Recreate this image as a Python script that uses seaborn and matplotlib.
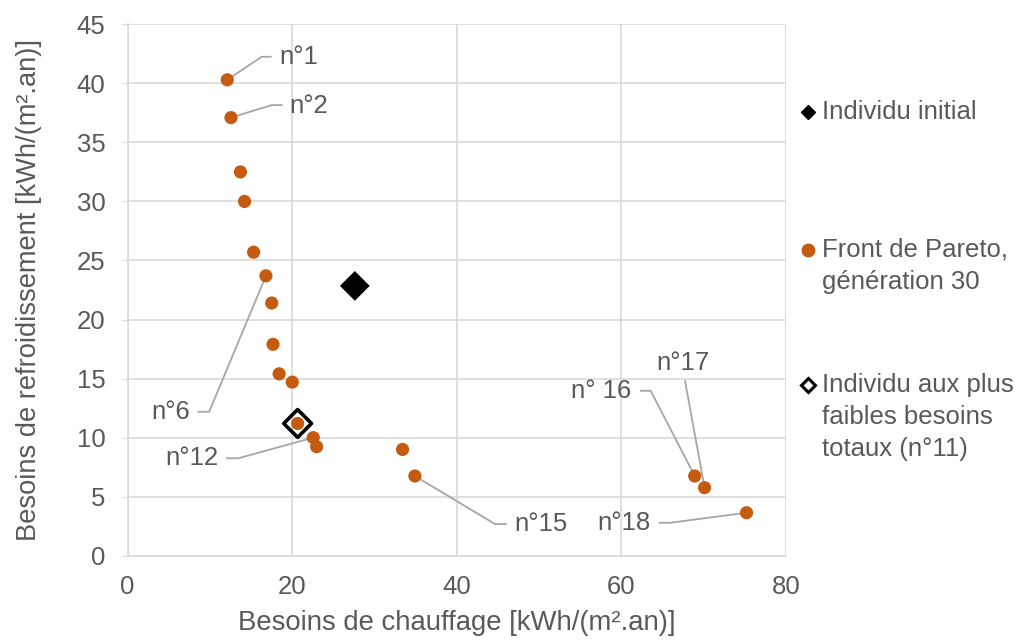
import matplotlib
matplotlib.use("Agg")
import matplotlib.pyplot as plt
import seaborn as sns
import pandas as pd

# Front de Pareto, génération 30
chauffage = [12.1, 12.55, 13.7, 14.2, 15.3, 16.8, 17.5, 17.66, 18.4, 20.0,
             20.65, 22.55, 22.96, 33.4, 34.9, 68.9, 70.1, 75.2]
refroid = [40.3, 37.1, 32.5, 30.0, 25.7, 23.7, 21.4, 17.9, 15.4, 14.7,
           11.2, 10.0, 9.23, 9.0, 6.75, 6.75, 5.76, 3.64]

# individu initial and best individual (n°11)
initial_x, initial_y = [27.6], [22.85]
best_x, best_y = [20.65], [11.2]

# labelled individuals: number, index in front, elbow, end of line, text pos, alignment
labels = [
    ("n°1", 0, (16.28, 42.25), 17.41, (18.4, 42.2), "left"),
    ("n°2", 1, (17.5, 38.16), 18.75, (19.7, 38.1), "left"),
    ("n°6", 5, (9.9, 12.19), 8.58, (7.6, 12.19), "right"),
    ("n°12", 11, (13.44, 8.25), 12.03, (11.0, 8.25), "right"),
    ("n°15", 14, (44.63, 2.68), 45.97, (47.0, 2.68), "left"),
    ("n° 16", 15, (63.55, 13.97), 62.33, (61.2, 13.97), "right"),
    ("n°17", 16, (67.72, 14.82), None, (67.5, 16.3), "center"),
    ("n°18", 17, (65.89, 2.79), 64.6, (63.5, 2.79), "right"),
]

# legend entries, one list per entry (lines of text)
legend_text = [
    ["Individu initial"],
    ["Front de Pareto,", "génération 30"],
    ["Individu aux plus", "faibles besoins", "totaux (n°11)"],
]

orange = "#C55A11"
grey = "#595959"
line_grey = "#A6A6A6"
fs = 18.5

sns.set_style("white")
plt.rcParams['font.family'] = ['Liberation Sans', 'DejaVu Sans']

fig = plt.figure(figsize=(10.19, 6.4), dpi=100)
ax = fig.add_axes([0.1253, 0.1317, 0.6461, 0.8303])

df = pd.DataFrame({"x": chauffage, "y": refroid})
sns.scatterplot(data=df, x="x", y="y", color=orange, s=90, edgecolor="none",
                ax=ax, zorder=3)
sns.scatterplot(x=initial_x, y=initial_y, marker="D", color="black", s=230,
                edgecolor="none", ax=ax, zorder=4)
sns.scatterplot(x=best_x, y=best_y, marker="D", facecolor="none",
                edgecolor="black", linewidth=2.6, s=200, ax=ax, zorder=4)

for txt, i, elbow, end, tpos, ha in labels:
    px, py = chauffage[i], refroid[i]
    xs = [px, elbow[0]]
    ys = [py, elbow[1]]
    if end is not None:
        xs.append(end)
        ys.append(elbow[1])
    ax.plot(xs, ys, color=line_grey, lw=1.3, zorder=2)
    ax.text(tpos[0], tpos[1], txt, ha=ha, va="center", fontsize=fs, color=grey)

ax.set_xlim(0, 80)
ax.set_ylim(0, 45)
ax.set_xticks(range(0, 81, 20))
ax.set_yticks(range(0, 46, 5))
ax.grid(True, color="#D9D9D9", lw=1.2)
ax.set_axisbelow(True)
for side in ax.spines:
    ax.spines[side].set_visible(False)
for side in ["left", "bottom"]:
    ax.spines[side].set_visible(True)
    ax.spines[side].set_color("#D9D9D9")
    ax.spines[side].set_linewidth(1.2)
ax.tick_params(axis="y", length=4, color="#D9D9D9", labelsize=fs,
               labelcolor=grey, pad=12, left=True)
ax.tick_params(axis="x", length=0, labelsize=fs, labelcolor=grey, pad=14)
ax.set_xlabel("Besoins de chauffage [kWh/(m².an)]", fontsize=19.8, color=grey,
              labelpad=8)
ax.set_ylabel("Besoins de refroidissement [kWh/(m².an)]", fontsize=19.6,
              color=grey, labelpad=25)

# legend drawn on the right
leg_x = 808 / 1019
tx = 822 / 1019
entry_y = [112, 250, 385]
line_step = 32
fig.lines.append(plt.Line2D([leg_x], [1 - entry_y[0] / 640], marker="D",
                            color="black", markersize=7.5, ls="none",
                            transform=fig.transFigure))
fig.lines.append(plt.Line2D([leg_x], [1 - entry_y[1] / 640], marker="o",
                            color=orange, markersize=9, ls="none",
                            transform=fig.transFigure))
fig.lines.append(plt.Line2D([leg_x], [1 - entry_y[2] / 640], marker="D",
                            markerfacecolor="white", markeredgecolor="black",
                            markeredgewidth=2.2, markersize=7.2, ls="none",
                            transform=fig.transFigure))
for y0, lines in zip(entry_y, legend_text):
    for k, line in enumerate(lines):
        fig.text(tx, 1 - (y0 + k * line_step) / 640, line, fontsize=fs,
                 color=grey, va="center")

fig.savefig("out.png", dpi=100)
